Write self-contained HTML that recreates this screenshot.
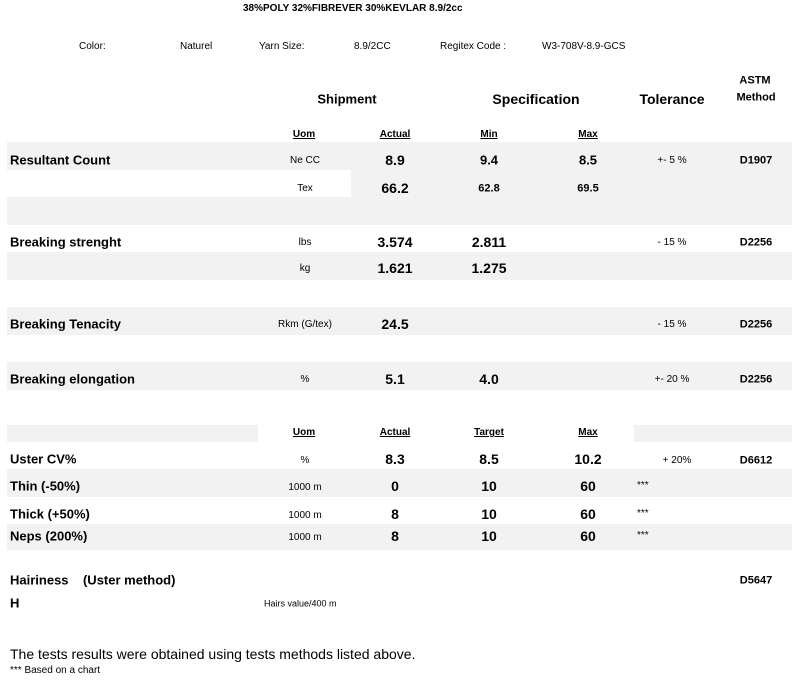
<!DOCTYPE html>
<html><head><meta charset="utf-8"><style>
body{margin:0;width:798px;height:685px;background:#fff;position:relative;overflow:hidden;font-family:"Liberation Sans",sans-serif;color:#000}
.g{position:absolute;background:#f2f2f2}
.t{position:absolute;white-space:nowrap;line-height:1;transform:translate(-50%,-50%)}
.l{position:absolute;white-space:nowrap;line-height:1;transform:translateY(-50%)}
.b{font-weight:bold}
.u{text-decoration:underline;font-weight:bold;font-size:10px}
.s{font-size:10px}
.v{font-weight:bold;font-size:14px}
.h{font-weight:bold;font-size:13px}
</style></head><body>
<div class="g" style="left:7px;top:142px;width:785px;height:28px"></div>
<div class="g" style="left:351px;top:170px;width:441px;height:27px"></div>
<div class="g" style="left:7px;top:197px;width:785px;height:28px"></div>
<div class="g" style="left:7px;top:252px;width:785px;height:28px"></div>
<div class="g" style="left:7px;top:307px;width:785px;height:28px"></div>
<div class="g" style="left:7px;top:362px;width:785px;height:28px"></div>
<div class="g" style="left:7px;top:425px;width:251px;height:17px"></div>
<div class="g" style="left:634px;top:425px;width:158px;height:17px"></div>
<div class="g" style="left:7px;top:469px;width:785px;height:28px"></div>
<div class="g" style="left:7px;top:524px;width:785px;height:26px"></div>

<div class="l b" style="left:243px;top:9px;font-size:10px">38%POLY 32%FIBREVER 30%KEVLAR 8.9/2cc</div>
<div class="l s" style="left:79px;top:47px">Color:</div>
<div class="l s" style="left:180px;top:47px">Naturel</div>
<div class="l s" style="left:259px;top:47px">Yarn Size:</div>
<div class="l s" style="left:354px;top:47px">8.9/2CC</div>
<div class="l s" style="left:440px;top:47px">Regitex Code :</div>
<div class="l s" style="left:542px;top:47px">W3-708V-8.9-GCS</div>

<div class="t b" style="left:347px;top:99px;font-size:13px">Shipment</div>
<div class="t b" style="left:536px;top:99px;font-size:14px">Specification</div>
<div class="t b" style="left:672px;top:99px;font-size:14px">Tolerance</div>
<div class="t b" style="left:755px;top:81px;font-size:11px">ASTM</div>
<div class="t b" style="left:756px;top:98px;font-size:11px">Method</div>

<div class="t u" style="left:304px;top:135px">Uom</div>
<div class="t u" style="left:395px;top:135px">Actual</div>
<div class="t u" style="left:489px;top:135px">Min</div>
<div class="t u" style="left:588px;top:135px">Max</div>

<div class="l h" style="left:10px;top:160px">Resultant Count</div>
<div class="t s" style="left:305px;top:161px">Ne CC</div>
<div class="t v" style="left:395px;top:160px">8.9</div>
<div class="t v" style="left:489px;top:160px;font-size:13px">9.4</div>
<div class="t v" style="left:588px;top:160px;font-size:13px">8.5</div>
<div class="t s" style="left:672px;top:161px">+- 5 %</div>
<div class="t b s" style="left:756px;top:161px;font-size:11px">D1907</div>

<div class="t s" style="left:305px;top:189px">Tex</div>
<div class="t v" style="left:395px;top:188px">66.2</div>
<div class="t b" style="left:489px;top:189px;font-size:11px">62.8</div>
<div class="t b" style="left:588px;top:189px;font-size:11px">69.5</div>

<div class="l h" style="left:10px;top:242px">Breaking strenght</div>
<div class="t s" style="left:305px;top:243px">lbs</div>
<div class="t v" style="left:395px;top:242px">3.574</div>
<div class="t v" style="left:489px;top:242px">2.811</div>
<div class="t s" style="left:672px;top:243px">- 15 %</div>
<div class="t b" style="left:756px;top:243px;font-size:11px">D2256</div>

<div class="t s" style="left:305px;top:269px">kg</div>
<div class="t v" style="left:395px;top:268px">1.621</div>
<div class="t v" style="left:489px;top:268px">1.275</div>

<div class="l h" style="left:10px;top:324px">Breaking Tenacity</div>
<div class="t s" style="left:305px;top:325px">Rkm (G/tex)</div>
<div class="t v" style="left:395px;top:324px">24.5</div>
<div class="t s" style="left:672px;top:325px">- 15 %</div>
<div class="t b" style="left:756px;top:325px;font-size:11px">D2256</div>

<div class="l h" style="left:10px;top:379px">Breaking elongation</div>
<div class="t s" style="left:305px;top:380px">%</div>
<div class="t v" style="left:395px;top:379px">5.1</div>
<div class="t v" style="left:489px;top:379px">4.0</div>
<div class="t s" style="left:672px;top:380px">+- 20 %</div>
<div class="t b" style="left:756px;top:380px;font-size:11px">D2256</div>

<div class="t u" style="left:304px;top:433px">Uom</div>
<div class="t u" style="left:395px;top:433px">Actual</div>
<div class="t u" style="left:489px;top:433px">Target</div>
<div class="t u" style="left:588px;top:433px">Max</div>

<div class="l h" style="left:10px;top:459px">Uster CV%</div>
<div class="t s" style="left:305px;top:461px">%</div>
<div class="t v" style="left:395px;top:459px">8.3</div>
<div class="t v" style="left:489px;top:459px">8.5</div>
<div class="t v" style="left:588px;top:459px">10.2</div>
<div class="t s" style="left:677px;top:461px">+ 20%</div>
<div class="t b" style="left:756px;top:461px;font-size:11px">D6612</div>

<div class="l h" style="left:10px;top:486px">Thin (-50%)</div>
<div class="t s" style="left:305px;top:488px">1000 m</div>
<div class="t v" style="left:395px;top:486px">0</div>
<div class="t v" style="left:489px;top:486px">10</div>
<div class="t v" style="left:588px;top:486px">60</div>
<div class="l s" style="left:637px;top:486px">***</div>

<div class="l h" style="left:10px;top:514px">Thick (+50%)</div>
<div class="t s" style="left:305px;top:516px">1000 m</div>
<div class="t v" style="left:395px;top:514px">8</div>
<div class="t v" style="left:489px;top:514px">10</div>
<div class="t v" style="left:588px;top:514px">60</div>
<div class="l s" style="left:637px;top:514px">***</div>

<div class="l h" style="left:10px;top:536px">Neps (200%)</div>
<div class="t s" style="left:305px;top:538px">1000 m</div>
<div class="t v" style="left:395px;top:536px">8</div>
<div class="t v" style="left:489px;top:536px">10</div>
<div class="t v" style="left:588px;top:536px">60</div>
<div class="l s" style="left:637px;top:536px">***</div>

<div class="l h" style="left:10px;top:580px">Hairiness&nbsp;&nbsp;&nbsp; (Uster method)</div>
<div class="t b" style="left:756px;top:581px;font-size:11px">D5647</div>
<div class="l h" style="left:10px;top:603px">H</div>
<div class="l" style="left:264px;top:604px;font-size:9px">Hairs value/400 m</div>

<div class="l" style="left:10px;top:654px;font-size:14px">The tests results were obtained using tests methods listed above.</div>
<div class="l" style="left:10px;top:671px;font-size:10px">*** Based on a chart</div>
</body></html>
